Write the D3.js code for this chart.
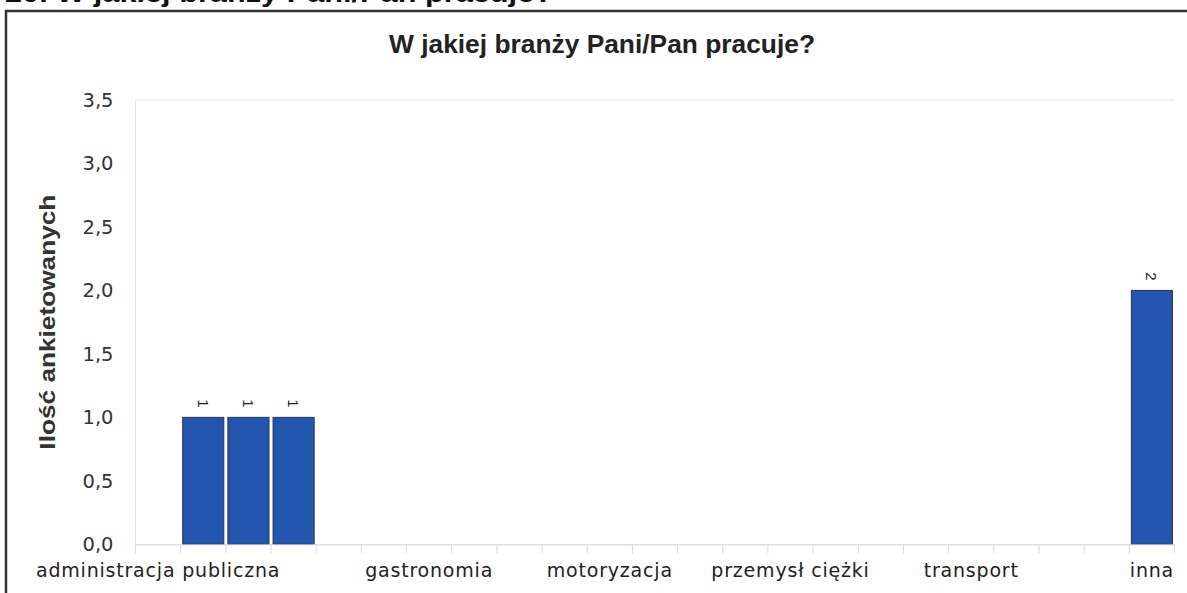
<!DOCTYPE html>
<html>
<head>
<meta charset="utf-8">
<script src="https://cdn.jsdelivr.net/npm/d3@7"></script>
<style>
  body { margin: 0; background: #fff; }
  svg { display: block; }
</style>
</head>
<body>
<div id="chart-area"></div>
<script>
// data
var heading = "20. W jakiej branży Pani/Pan pracuje?";
var title = "W jakiej branży Pani/Pan pracuje?";
var yTitle = "Ilość ankietowanych";
var slotCount = 23;
var categories = ["administracja publiczna", "gastronomia", "motoryzacja", "przemysł ciężki", "transport", "inna"];
var categorySlots = [0, 6, 10, 14, 18, 22];
var barSlots = [1, 2, 3, 22];
var barValues = [1, 1, 1, 2];
var yTicks = [0, 0.5, 1, 1.5, 2, 2.5, 3, 3.5];

var W = 1187, H = 593;
var plot = { left: 135.5, right: 1174.5, top: 100, bottom: 544.3 };

var svg = d3.select("#chart-area").append("svg")
    .attr("width", W)
    .attr("height", H);

// cut-off heading above the frame
svg.append("text")
    .attr("x", 5)
    .attr("y", 2)
    .attr("font-family", "Liberation Sans, Arial, sans-serif")
    .attr("font-weight", "bold")
    .attr("font-size", "26px")
    .attr("textLength", 548)
    .attr("lengthAdjust", "spacingAndGlyphs")
    .style("fill", "#111")
    .text(heading);

// frame
svg.append("path")
    .attr("d", "M6,600 L6,11 L1192,11")
    .attr("fill", "none")
    .attr("stroke", "#333")
    .attr("stroke-width", 2.5);

var x = d3.scaleBand()
    .domain(d3.range(slotCount))
    .range([plot.left, plot.right])
    .paddingInner(0.09)
    .paddingOuter(0.045);

var xs = d3.scaleBand()
    .domain(d3.range(slotCount))
    .range([plot.left, plot.right]);

var y = d3.scaleLinear()
    .domain([0, 3.5])
    .range([plot.bottom, plot.top]);

// chart title
svg.append("text")
    .attr("x", 602)
    .attr("y", 53)
    .attr("text-anchor", "middle")
    .attr("font-family", "Liberation Sans Narrow, Arial Narrow, Liberation Sans, sans-serif")
    .attr("font-weight", "bold")
    .attr("font-size", "26px")
    .attr("textLength", 426)
    .attr("lengthAdjust", "spacingAndGlyphs")
    .style("fill", "#222")
    .text(title);

// faint plot outline (top and left)
svg.append("path")
    .attr("d", "M" + plot.left + "," + plot.bottom + " L" + plot.left + "," + plot.top + " L" + plot.right + "," + plot.top)
    .attr("fill", "none")
    .attr("stroke", "#dfe4ee")
    .attr("stroke-width", 1);

// bars
svg.selectAll("rect.bar")
    .data(barSlots)
    .enter()
    .append("rect")
        .attr("class", "bar")
        .attr("x", function(d) { return x(d); })
        .attr("y", function(d, i) { return y(barValues[i]); })
        .attr("width", x.bandwidth())
        .attr("height", function(d, i) { return y(0) - y(barValues[i]); })
        .attr("fill", "#2255ad")
        .attr("stroke", "#2a3550")
        .attr("stroke-width", 1);

// rotated value labels
svg.selectAll("text.value")
    .data(barSlots)
    .enter()
    .append("text")
        .attr("class", "value")
        .attr("font-family", "Liberation Sans, Arial, sans-serif")
        .attr("font-size", "15px")
        .attr("text-anchor", "middle")
        .attr("dominant-baseline", "central")
        .attr("transform", function(d, i) {
            return "translate(" + (x(d) + x.bandwidth() / 2) + "," + (y(barValues[i]) - 14) + ") rotate(90)";
        })
        .style("fill", "#222")
        .text(function(d, i) { return d3.format("d")(barValues[i]); });

// x axis
var bottomAxis = d3.axisBottom(xs)
    .tickSize(0)
    .tickFormat("");

var xAxis = svg.append("g")
    .attr("class", "bottom axis")
    .attr("transform", "translate(0," + plot.bottom + ")")
    .call(bottomAxis);
xAxis.select(".domain").attr("stroke", "#c9cfdc");

svg.selectAll("line.slot")
    .data(d3.range(slotCount + 1))
    .enter()
    .append("line")
        .attr("class", "slot")
        .attr("x1", function(d) { return plot.left + d * xs.step(); })
        .attr("x2", function(d) { return plot.left + d * xs.step(); })
        .attr("y1", plot.bottom)
        .attr("y2", plot.bottom + 9)
        .attr("stroke", "#d6d9e0")
        .attr("stroke-width", 1);

svg.selectAll("text.cat")
    .data(categories)
    .enter()
    .append("text")
        .attr("class", "cat")
        .attr("x", function(d, i) { return xs(categorySlots[i]) + xs.bandwidth() / 2; })
        .attr("y", 577)
        .attr("text-anchor", "middle")
        .attr("font-family", "DejaVu Sans, sans-serif")
        .attr("font-size", "19px")
        .attr("letter-spacing", "0.8px")
        .style("fill", "#222")
        .text(function(d) { return d; });

// y axis labels
var leftAxis = d3.axisLeft(y)
    .tickValues(yTicks)
    .tickSize(0)
    .tickPadding(22)
    .tickFormat(function(d) { return d3.format(".1f")(d).replace(".", ","); });

var yAxis = svg.append("g")
    .attr("class", "left axis")
    .attr("transform", "translate(" + plot.left + ",0)")
    .call(leftAxis);
yAxis.select(".domain").remove();
yAxis.selectAll("text")
    .attr("font-family", "DejaVu Sans, sans-serif")
    .attr("font-size", "19.5px")
    .style("fill", "#333");

svg.append("text")
    .attr("class", "y axis-label")
    .attr("x", -(plot.top + plot.bottom) / 2)
    .attr("y", 55)
    .attr("text-anchor", "middle")
    .attr("transform", "rotate(-90)")
    .attr("font-family", "Liberation Sans Narrow, Arial Narrow, Liberation Sans, sans-serif")
    .attr("font-weight", "bold")
    .attr("font-size", "22px")
    .attr("textLength", 255)
    .attr("lengthAdjust", "spacingAndGlyphs")
    .style("fill", "#333")
    .text(yTitle);
</script>
</body>
</html>
